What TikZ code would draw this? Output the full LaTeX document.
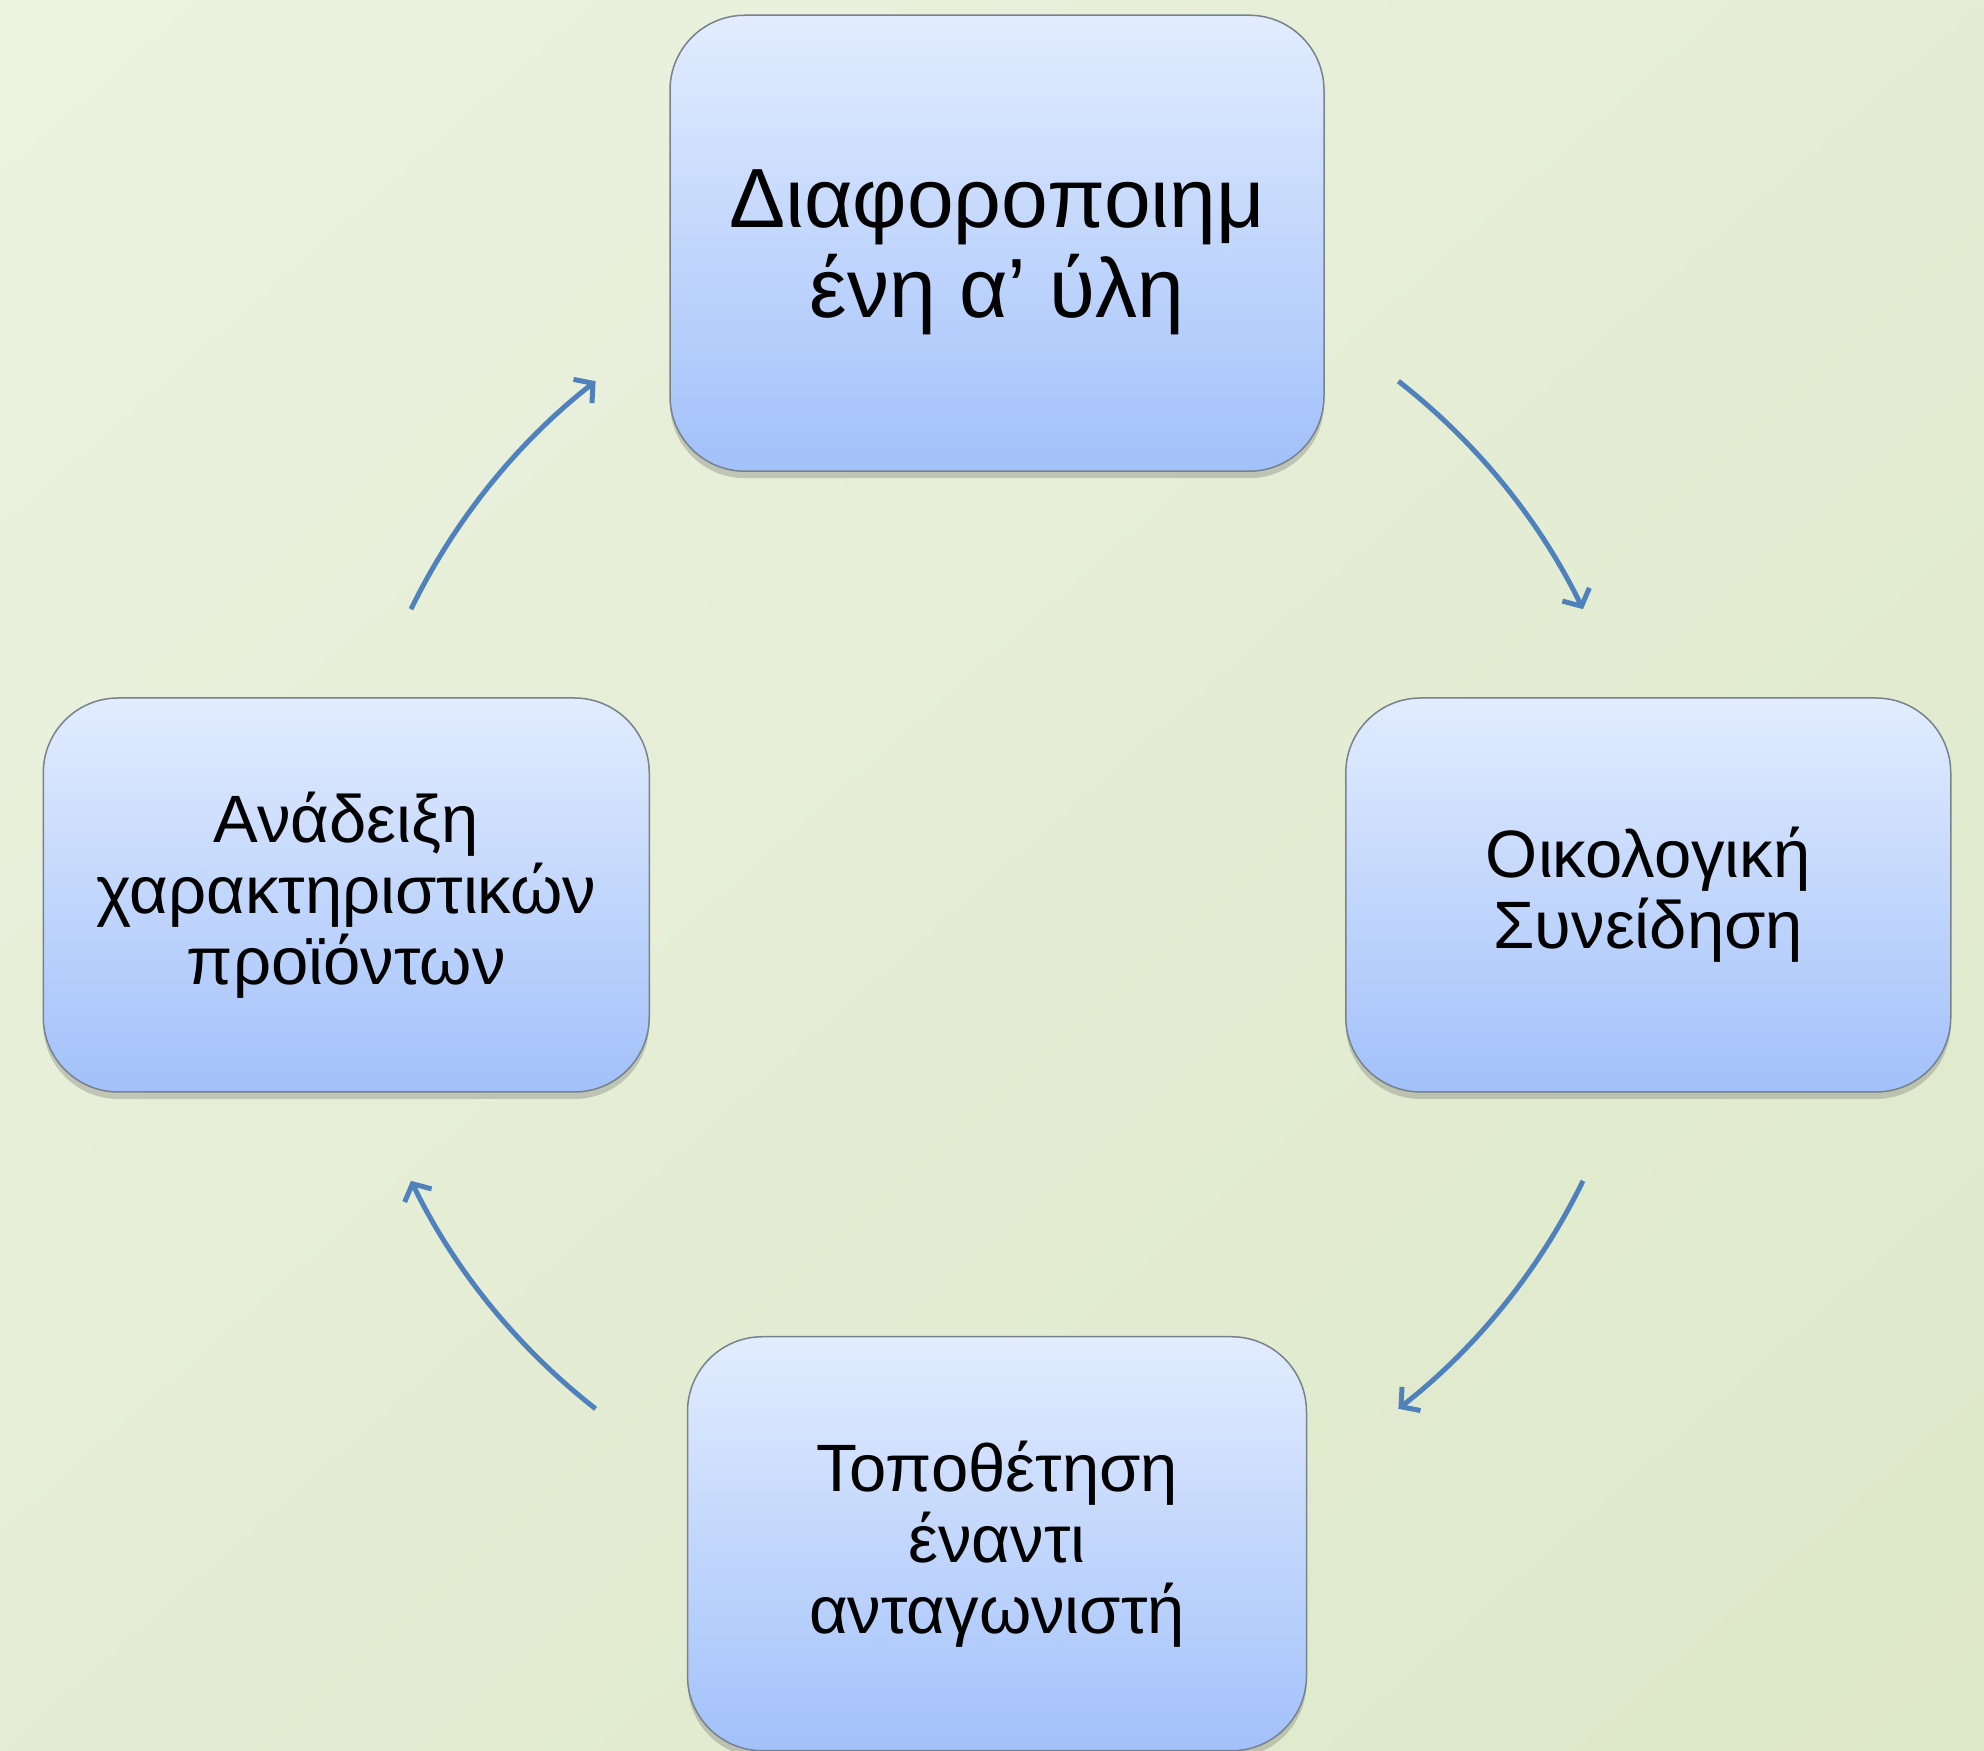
\documentclass[tikz,border=0pt]{standalone}
\usepackage{fontspec}
\setmainfont{Liberation Sans}
\usepackage{tikz}
\usetikzlibrary{arrows.meta, positioning, calc, shadows, shadings}
\definecolor{bgtop}{RGB}{236,242,224}
\definecolor{bgbottom}{RGB}{221,232,200}
\definecolor{boxtop}{RGB}{226,236,254}
\definecolor{boxbottom}{RGB}{162,193,250}
\definecolor{boxline}{RGB}{120,130,140}
\definecolor{cycleblue}{RGB}{79,129,189}

\begin{document}
\begin{tikzpicture}[
		x=1pt, y=1pt,
		stepbox/.style={rectangle, rounded corners=75pt, draw=boxline, line width=1.5pt,
			top color=boxtop, bottom color=boxbottom, align=center, inner sep=0pt,
			drop shadow={shadow xshift=0pt, shadow yshift=-7pt, opacity=0.3, fill=black!60},
			font=\fontsize{67}{71}\selectfont},
		cyclearrow/.style={draw=cycleblue, line width=5pt,
			-{Straight Barb[length=13pt, width=30pt, line width=5pt]}},
	]
		%Background
		\useasboundingbox (0,0) rectangle (1984,1751);
		\shade[upper left=bgtop, lower right=bgbottom, upper right=bgtop!50!bgbottom, lower left=bgtop!50!bgbottom]
			(0,0) rectangle (1984,1751);

		%Nodes
		\coordinate (c) at (997,856);
		\node (material) [
			stepbox,
			above=423pt of c,
			minimum width=654pt,
			minimum height=456pt,
			font=\fontsize{84}{90}\selectfont
			] {\rule{0pt}{76pt}Διαφοροποιημ\\ένη α’ ύλη};
		\node (eco) [
			stepbox,
			right=348pt of c,
			minimum width=605pt,
			minimum height=394pt
			] {Οικολογική\\Συνείδηση};
		\node (rival) [
			stepbox,
			below=441pt of c,
			minimum width=619pt,
			minimum height=414pt
			] {Τοποθέτηση\\έναντι\\ανταγωνιστή};
		\node (features) [
			stepbox,
			left=347pt of c,
			minimum width=606pt,
			minimum height=394pt
			] {Ανάδειξη\\χαρακτηριστικών\\προϊόντων};

		%Arrows
		\draw[cyclearrow] ($(c) + (52:652pt)$) arc[start angle=52, end angle=26, radius=652pt];
		\draw[cyclearrow] ($(c) + (-26:652pt)$) arc[start angle=-26, end angle=-52, radius=652pt];
		\draw[cyclearrow] ($(c) + (-128:652pt)$) arc[start angle=-128, end angle=-154, radius=652pt];
		\draw[cyclearrow] ($(c) + (154:652pt)$) arc[start angle=154, end angle=128, radius=652pt];
	\end{tikzpicture}
\end{document}
